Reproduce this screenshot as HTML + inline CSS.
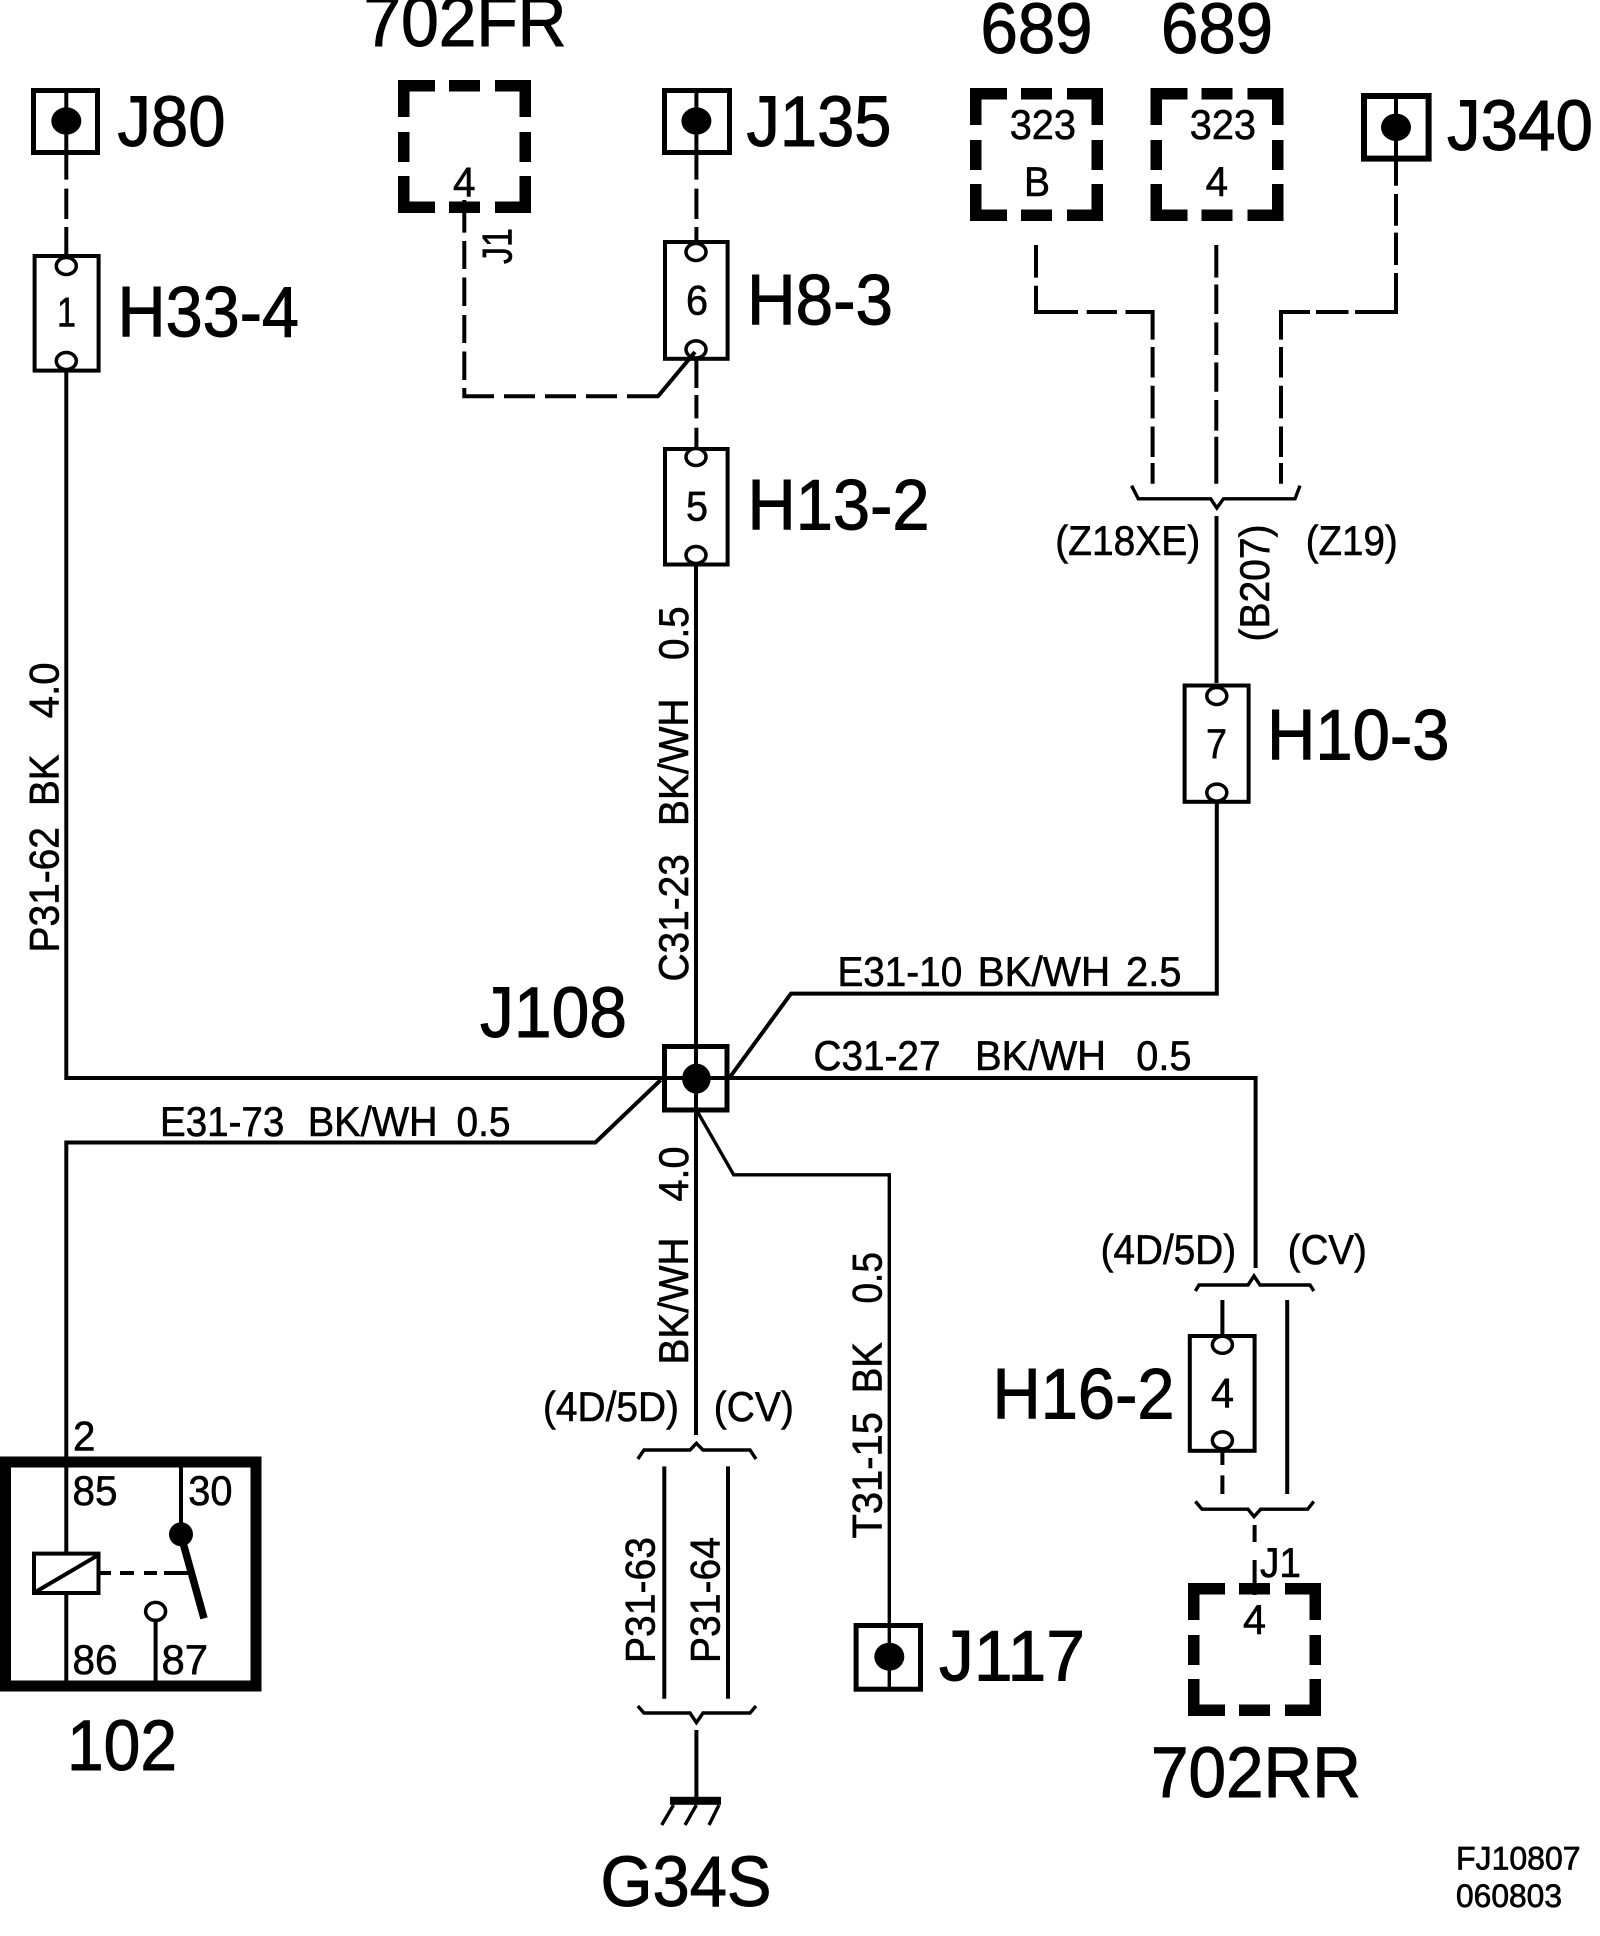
<!DOCTYPE html>
<html><head><meta charset="utf-8"><style>
html,body{margin:0;padding:0;background:#fff}
svg{display:block}
text{font-family:"Liberation Sans",sans-serif;fill:#000;stroke:#000}
.b{font-size:71px;stroke-width:1}.m{font-size:42px;stroke-width:.6}.s{font-size:32px;stroke-width:.7}
.w{fill:none;stroke:#000;stroke-width:4}
.t{fill:none;stroke:#000;stroke-width:3.4}
.c{fill:#fff;stroke:#000;stroke-width:3.5}
</style></head><body>
<svg width="1600" height="1936" viewBox="0 0 1600 1936" xmlns="http://www.w3.org/2000/svg">
<defs>
<g id="db">
<rect x="0" y="0" width="37" height="11.5"/><rect x="51" y="0" width="31" height="11.5"/><rect x="97" y="0" width="36" height="11.5"/>
<rect x="0" y="121.5" width="37" height="11.5"/><rect x="51" y="121.5" width="31" height="11.5"/><rect x="97" y="121.5" width="36" height="11.5"/>
<rect x="0" y="0" width="11.5" height="37"/><rect x="0" y="52" width="11.5" height="30"/><rect x="0" y="96" width="11.5" height="37"/>
<rect x="121.5" y="0" width="11.5" height="37"/><rect x="121.5" y="52" width="11.5" height="30"/><rect x="121.5" y="96" width="11.5" height="37"/>
</g>
</defs>
<rect width="1600" height="1936" fill="#fff"/>

<!-- main wires -->
<path class="w" d="M66.3 372V1078H1255.6V1268"/>
<path class="w" d="M66.3 1552V1142.5H595.4L660.7 1080"/>
<path class="w" d="M66.3 1595V1691"/>
<path class="w" d="M696 566V1435"/>
<path class="w" d="M730 1077L791 993.6H1216.8V803"/>
<path class="t" d="M698 1112.6L733.7 1174.8H889.3V1660"/>

<!-- J80 chain -->
<path class="w" d="M66.3 88V179.6M66.3 188.6V219M66.3 227V256"/>
<rect x="33.5" y="90.5" width="64" height="62" fill="none" stroke="#000" stroke-width="5"/>
<ellipse cx="66.3" cy="121" rx="15" ry="13.7"/>
<rect x="34.6" y="256" width="64" height="114.6" fill="none" stroke="#000" stroke-width="4"/>
<ellipse class="c" cx="66.3" cy="266" rx="10" ry="8.5"/>
<ellipse class="c" cx="66.3" cy="361" rx="10" ry="8.5"/>

<!-- J135 chain -->
<path class="w" d="M696.4 88V179.6M696.4 188.6V219M696.4 227V245"/>
<rect x="664.5" y="90.5" width="65" height="62" fill="none" stroke="#000" stroke-width="5"/>
<ellipse cx="696.4" cy="121" rx="15" ry="13.7"/>
<rect x="665" y="242" width="62.6" height="116.8" fill="none" stroke="#000" stroke-width="4"/>
<ellipse class="c" cx="696" cy="252" rx="10" ry="8.5"/>
<ellipse class="c" cx="696" cy="349.4" rx="10" ry="8.5"/>
<path class="w" d="M696.4 358V388M696.4 395V418.4M696.4 427.8V448"/>
<rect x="665" y="449" width="62.6" height="115.5" fill="none" stroke="#000" stroke-width="4"/>
<ellipse class="c" cx="696" cy="457" rx="10" ry="8.5"/>
<ellipse class="c" cx="696" cy="555" rx="10" ry="8.5"/>

<!-- 702FR -->
<use href="#db" x="398" y="80"/>
<path class="w" d="M464.3 200V232.6M464.3 241V269M464.3 277.5V306M464.3 315V343M464.3 351.5V380M464.3 388V396.3H494M504 396.3H535M545 396.3H576M586 396.3H617M627 396.3H658L695 352"/>

<!-- 689 boxes -->
<use href="#db" x="970" y="88"/>
<use href="#db" x="1150.5" y="88"/>
<path class="w" d="M1036 245V277.6M1036 285.7V312H1078M1086.7 312H1117M1125.5 312H1152.6V339.6M1152.6 347V377.5M1152.6 385.7V418.4M1152.6 426.5V457M1152.6 463V483.7"/>
<path class="w" d="M1216.3 245V277.6M1216.3 284.5V314M1216.3 322.4V355M1216.3 362.4V391.8M1216.3 400V430.6M1216.3 436.7V483.7"/>
<path class="w" d="M1396 96V185.7M1396 194V225.7M1396 232.6V265M1396 273V312H1355M1348.5 312H1316M1310 312H1281V339.6M1281 347V377.5M1281 385.7V418.4M1281 426.5V457M1281 463V483.7"/>
<rect x="1364" y="96" width="64.6" height="62.6" fill="none" stroke="#000" stroke-width="6"/>
<ellipse cx="1396" cy="127.3" rx="15" ry="13.7"/>
<path class="t" d="M1131.6 485.7L1138.3 498.8H1210.7L1216.8 508L1223.5 498.8H1295L1300 485.7"/>
<path class="w" d="M1216.5 516V683"/>
<rect x="1184.6" y="685.5" width="64" height="116.3" fill="none" stroke="#000" stroke-width="4"/>
<ellipse class="c" cx="1216.8" cy="696" rx="10" ry="8.5"/>
<ellipse class="c" cx="1216.8" cy="792.6" rx="10" ry="8.5"/>

<!-- J108 -->
<rect x="664.5" y="1046.5" width="62.5" height="63.5" fill="none" stroke="#000" stroke-width="5"/>
<ellipse cx="696.4" cy="1078.6" rx="14.3" ry="15"/>

<!-- J117 -->
<rect x="856.1" y="1625.5" width="64.4" height="63.7" fill="none" stroke="#000" stroke-width="5"/>
<ellipse cx="889.3" cy="1656.7" rx="15" ry="14"/>
<path class="t" d="M889.3 1660V1689"/>

<!-- ground side -->
<path class="t" d="M637.8 1459L644 1450H690L696.4 1443.3L703 1450H750L756 1459"/>
<path class="w" d="M664.3 1466.4V1698.7M728 1466.4V1698.7"/>
<path class="t" d="M637.8 1706L644 1713H690L696.4 1722.6L703 1713H750L756 1706"/>
<path class="w" d="M696.4 1730V1797"/>
<rect x="670" y="1796.8" width="51" height="8"/>
<path class="t" d="M673.5 1805L661.7 1825M696.4 1805L685 1825M719 1805L709 1825"/>

<!-- H16 side -->
<path class="t" d="M1195.4 1291L1199 1285H1248L1254 1276L1260 1285H1310L1313.8 1291"/>
<path class="w" d="M1222.4 1300V1334M1222.4 1452V1465M1222.4 1475.4V1494"/>
<path class="w" d="M1287.2 1300V1494"/>
<rect x="1189.8" y="1336" width="64.8" height="114.8" fill="none" stroke="#000" stroke-width="4"/>
<ellipse class="c" cx="1222.4" cy="1344.8" rx="10" ry="8.5"/>
<ellipse class="c" cx="1222.4" cy="1440.4" rx="10" ry="8.5"/>
<path class="t" d="M1195.4 1501.4L1202 1509.2H1248L1254 1516.6L1260.7 1509.2H1307.7L1313.8 1501.4"/>
<path class="w" d="M1254.6 1525V1542M1254.6 1560V1595"/>
<use href="#db" x="1188" y="1583"/>

<!-- relay -->
<rect x="5.5" y="1462" width="250.5" height="224" fill="none" stroke="#000" stroke-width="11"/>
<path class="w" d="M181 1462V1534"/>
<ellipse cx="181" cy="1534.3" rx="12" ry="12"/>
<path d="M182.6 1541.3L204 1618.4" fill="none" stroke="#000" stroke-width="7.5"/>
<rect x="34" y="1553.6" width="64.5" height="39.4" fill="none" stroke="#000" stroke-width="4"/>
<path class="w" d="M36 1591.6L97 1555.8"/>
<path class="w" d="M97 1573H111M120 1573H134M144 1573H157M164 1573H189"/>
<ellipse class="c" cx="155.6" cy="1611.4" rx="10" ry="9"/>
<path class="w" d="M155.6 1620.5V1686"/>

<!-- big labels -->
<text class="b" x="363.5" y="46" textLength="203" lengthAdjust="spacingAndGlyphs">702FR</text>
<text class="b" x="117.5" y="146" textLength="108" lengthAdjust="spacingAndGlyphs">J80</text>
<text class="b" x="117.5" y="336.7" textLength="181.5" lengthAdjust="spacingAndGlyphs">H33-4</text>
<text class="b" x="746.5" y="146" textLength="145" lengthAdjust="spacingAndGlyphs">J135</text>
<text class="b" x="747" y="324.5" textLength="146" lengthAdjust="spacingAndGlyphs">H8-3</text>
<text class="b" x="747.5" y="529.4" textLength="182" lengthAdjust="spacingAndGlyphs">H13-2</text>
<text class="b" x="980.5" y="53" textLength="112" lengthAdjust="spacingAndGlyphs">689</text>
<text class="b" x="1161" y="53" textLength="112" lengthAdjust="spacingAndGlyphs">689</text>
<text class="b" x="1447" y="150" textLength="146" lengthAdjust="spacingAndGlyphs">J340</text>
<text class="b" x="1267" y="759.4" textLength="182.5" lengthAdjust="spacingAndGlyphs">H10-3</text>
<text class="b" x="480" y="1037" textLength="147" lengthAdjust="spacingAndGlyphs">J108</text>
<text class="b" x="939" y="1680.6" textLength="146" lengthAdjust="spacingAndGlyphs">J117</text>
<text class="b" x="992.5" y="1418.5" textLength="182" lengthAdjust="spacingAndGlyphs">H16-2</text>
<text class="b" x="1151" y="1796.8" textLength="210" lengthAdjust="spacingAndGlyphs">702RR</text>
<text class="b" x="67" y="1770" textLength="110" lengthAdjust="spacingAndGlyphs">102</text>
<text class="b" x="600.5" y="1906" textLength="171" lengthAdjust="spacingAndGlyphs">G34S</text>

<!-- medium labels -->
<text class="m" x="57" y="326.5" textLength="19" lengthAdjust="spacingAndGlyphs">1</text>
<text class="m" x="453" y="196.7" textLength="22.5" lengthAdjust="spacingAndGlyphs">4</text>
<text class="m" x="686" y="314.3" textLength="22" lengthAdjust="spacingAndGlyphs">6</text>
<text class="m" x="686" y="520.4" textLength="22" lengthAdjust="spacingAndGlyphs">5</text>
<text class="m" x="1206" y="758" textLength="21" lengthAdjust="spacingAndGlyphs">7</text>
<text class="m" x="1211" y="1407.4" textLength="23" lengthAdjust="spacingAndGlyphs">4</text>
<text class="m" x="1243" y="1634" textLength="23" lengthAdjust="spacingAndGlyphs">4</text>
<text class="m" x="1260" y="1577" textLength="41" lengthAdjust="spacingAndGlyphs">J1</text>
<text class="m" x="1009.7" y="138.8" textLength="66.3" lengthAdjust="spacingAndGlyphs">323</text>
<text class="m" x="1189.8" y="138.8" textLength="66.2" lengthAdjust="spacingAndGlyphs">323</text>
<text class="m" x="1024" y="196" textLength="26" lengthAdjust="spacingAndGlyphs">B</text>
<text class="m" x="1205.6" y="196" textLength="22.4" lengthAdjust="spacingAndGlyphs">4</text>
<text class="m" x="1055.2" y="555" textLength="145" lengthAdjust="spacingAndGlyphs">(Z18XE)</text>
<text class="m" x="1305.7" y="555" textLength="92" lengthAdjust="spacingAndGlyphs">(Z19)</text>
<text class="m" x="1100.6" y="1264" textLength="135.5" lengthAdjust="spacingAndGlyphs">(4D/5D)</text>
<text class="m" x="1287.8" y="1264" textLength="79" lengthAdjust="spacingAndGlyphs">(CV)</text>
<text class="m" x="543" y="1421" textLength="136" lengthAdjust="spacingAndGlyphs">(4D/5D)</text>
<text class="m" x="713.8" y="1421" textLength="80" lengthAdjust="spacingAndGlyphs">(CV)</text>
<text class="m" x="73" y="1450.7" textLength="22.4" lengthAdjust="spacingAndGlyphs">2</text>
<text class="m" x="72.5" y="1505" textLength="45" lengthAdjust="spacingAndGlyphs">85</text>
<text class="m" x="188.3" y="1505" textLength="44.2" lengthAdjust="spacingAndGlyphs">30</text>
<text class="m" x="72.5" y="1674" textLength="45" lengthAdjust="spacingAndGlyphs">86</text>
<text class="m" x="161.5" y="1674" textLength="46.6" lengthAdjust="spacingAndGlyphs">87</text>

<text class="m" x="160" y="1136" textLength="124.3" lengthAdjust="spacingAndGlyphs">E31-73</text>
<text class="m" x="307.7" y="1136" textLength="130" lengthAdjust="spacingAndGlyphs">BK/WH</text>
<text class="m" x="456.5" y="1136" textLength="54" lengthAdjust="spacingAndGlyphs">0.5</text>
<text class="m" x="837.5" y="986" textLength="124.7" lengthAdjust="spacingAndGlyphs">E31-10</text>
<text class="m" x="977.6" y="986" textLength="132.6" lengthAdjust="spacingAndGlyphs">BK/WH</text>
<text class="m" x="1126" y="986" textLength="55.5" lengthAdjust="spacingAndGlyphs">2.5</text>
<text class="m" x="813.5" y="1070" textLength="127" lengthAdjust="spacingAndGlyphs">C31-27</text>
<text class="m" x="975" y="1070" textLength="131" lengthAdjust="spacingAndGlyphs">BK/WH</text>
<text class="m" x="1136.3" y="1070" textLength="55.2" lengthAdjust="spacingAndGlyphs">0.5</text>

<text class="s" x="1456" y="1869.7" textLength="124.6" lengthAdjust="spacingAndGlyphs">FJ10807</text>
<text class="s" x="1456" y="1907" textLength="106" lengthAdjust="spacingAndGlyphs">060803</text>

<!-- rotated labels -->
<text class="m" transform="translate(511.7 264) rotate(-90)" textLength="36" lengthAdjust="spacingAndGlyphs">J1</text>
<text class="m" transform="translate(1269 641.5) rotate(-90)" textLength="117" lengthAdjust="spacingAndGlyphs">(B207)</text>
<text class="m" transform="translate(58.7 952.5) rotate(-90)" textLength="125.4" lengthAdjust="spacingAndGlyphs">P31-62</text>
<text class="m" transform="translate(58.7 806) rotate(-90)" textLength="51.6" lengthAdjust="spacingAndGlyphs">BK</text>
<text class="m" transform="translate(58.7 718.2) rotate(-90)" textLength="55.7" lengthAdjust="spacingAndGlyphs">4.0</text>
<text class="m" transform="translate(688 981.5) rotate(-90)" textLength="127.4" lengthAdjust="spacingAndGlyphs">C31-23</text>
<text class="m" transform="translate(688 826) rotate(-90)" textLength="127.5" lengthAdjust="spacingAndGlyphs">BK/WH</text>
<text class="m" transform="translate(688 660) rotate(-90)" textLength="53.6" lengthAdjust="spacingAndGlyphs">0.5</text>
<text class="m" transform="translate(688 1364.5) rotate(-90)" textLength="127" lengthAdjust="spacingAndGlyphs">BK/WH</text>
<text class="m" transform="translate(688 1201.5) rotate(-90)" textLength="55" lengthAdjust="spacingAndGlyphs">4.0</text>
<text class="m" transform="translate(654.6 1663) rotate(-90)" textLength="126" lengthAdjust="spacingAndGlyphs">P31-63</text>
<text class="m" transform="translate(719.4 1663) rotate(-90)" textLength="126" lengthAdjust="spacingAndGlyphs">P31-64</text>
<text class="m" transform="translate(881.6 1538.5) rotate(-90)" textLength="126.4" lengthAdjust="spacingAndGlyphs">T31-15</text>
<text class="m" transform="translate(881.6 1393.3) rotate(-90)" textLength="51.2" lengthAdjust="spacingAndGlyphs">BK</text>
<text class="m" transform="translate(881.6 1303.5) rotate(-90)" textLength="51.4" lengthAdjust="spacingAndGlyphs">0.5</text>
</svg>
</body></html>
